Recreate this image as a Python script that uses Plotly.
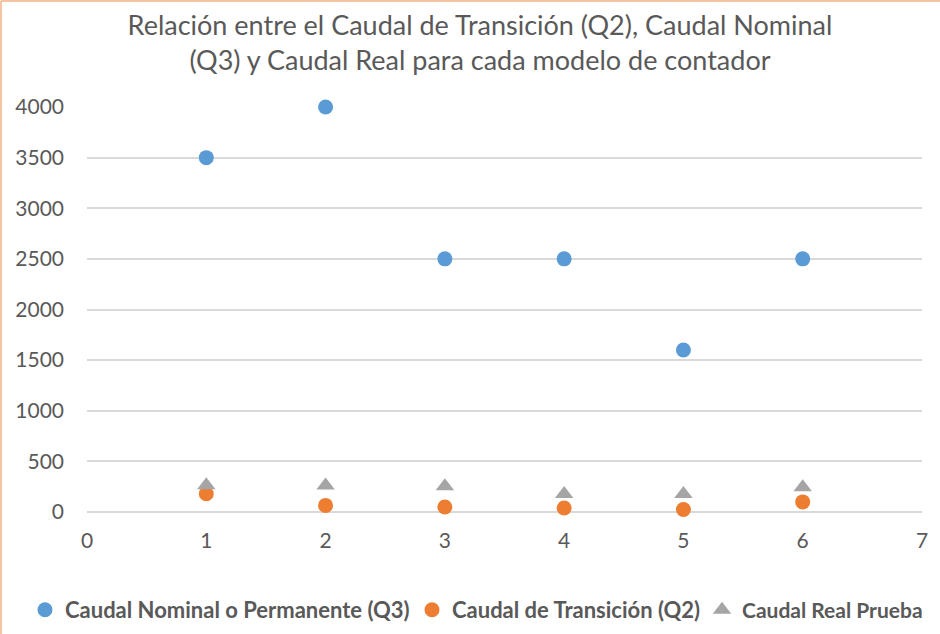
import plotly.graph_objects as go

modelos = [1, 2, 3, 4, 5, 6]
q3_nominal = [3500, 4000, 2500, 2500, 1600, 2500]
q2_transicion = [180, 65, 50, 40, 25, 100]
caudal_real = [265, 262, 255, 178, 178, 245]

font_fam = "Lato, Open Sans, sans-serif"
gray = "#595959"
W, H = 940, 634
L, R, T, B = 87, 18, 107, 122
pw = W - L - R
ph = H - T - B

fig = go.Figure()
fig.add_trace(go.Scatter(x=modelos, y=q3_nominal, mode="markers",
                         name="<b>Caudal Nominal o Permanente (Q3)</b>",
                         marker=dict(symbol="circle", size=15, color="#5B9BD5"),
                         cliponaxis=False, legend="legend"))
fig.add_trace(go.Scatter(x=modelos, y=q2_transicion, mode="markers",
                         name="<b>Caudal de Transición (Q2)</b>",
                         marker=dict(symbol="circle", size=15, color="#ED7D31"),
                         cliponaxis=False, legend="legend2"))
fig.add_trace(go.Scatter(x=modelos, y=caudal_real, mode="markers",
                         name="<b>Caudal Real Prueba</b>",
                         marker=dict(symbol="triangle-up", size=16, color="#A5A5A5"),
                         cliponaxis=False, legend="legend3"))

leg_y = 1 - 610 / H


def leg(xpx, size):
    return dict(orientation="h", x=xpx / W, xanchor="left", xref="container",
                y=leg_y, yref="container", yanchor="middle",
                font=dict(size=size, color=gray, family=font_fam),
                itemwidth=30, bgcolor="rgba(0,0,0,0)")


fig.update_layout(
    width=W, height=H,
    margin=dict(l=L, r=R, t=T, b=B),
    paper_bgcolor="white", plot_bgcolor="white",
    font=dict(family=font_fam, color=gray),
    title=dict(text="Relación entre el Caudal de Transición (Q2), Caudal Nominal<br>(Q3) y Caudal Real para cada modelo de contador",
               x=480 / W, xanchor="center", y=1 - 35 / H, yanchor="top",
               font=dict(size=27, color=gray, family=font_fam)),
    xaxis=dict(range=[0, 7], dtick=1, showgrid=False, zeroline=False, showline=False,
               ticks="", tickfont=dict(size=21, color=gray), ticklabelstandoff=14),
    yaxis=dict(range=[0, 4000], dtick=500, showgrid=True, gridcolor="#D9D9D9", gridwidth=1.5,
               zeroline=True, zerolinecolor="#D9D9D9", zerolinewidth=1.5, showline=False,
               ticks="", tickfont=dict(size=21, color=gray), ticklabelstandoff=22),
    legend=leg(25, 22),
    legend2=leg(412, 22),
    legend3=leg(702, 21),
    showlegend=True,
)

# chart border (orange), left and top edges visible
x_left = (1 - L) / pw
x_right = (W + 5 - L) / pw
y_top = 1 + (T - 1) / ph
y_bot = -(B + 5) / ph
fig.add_shape(type="line", xref="paper", yref="paper", x0=x_left, x1=x_left, y0=y_bot, y1=y_top,
              line=dict(color="#F4B183", width=1.5))
fig.add_shape(type="line", xref="paper", yref="paper", x0=x_left, x1=x_right, y0=y_top, y1=y_top,
              line=dict(color="#F4B183", width=1.5))

fig.write_html("out.html", config={"displayModeBar": False},
               post_script="document.body.style.margin='0';document.body.style.overflow='hidden';")
